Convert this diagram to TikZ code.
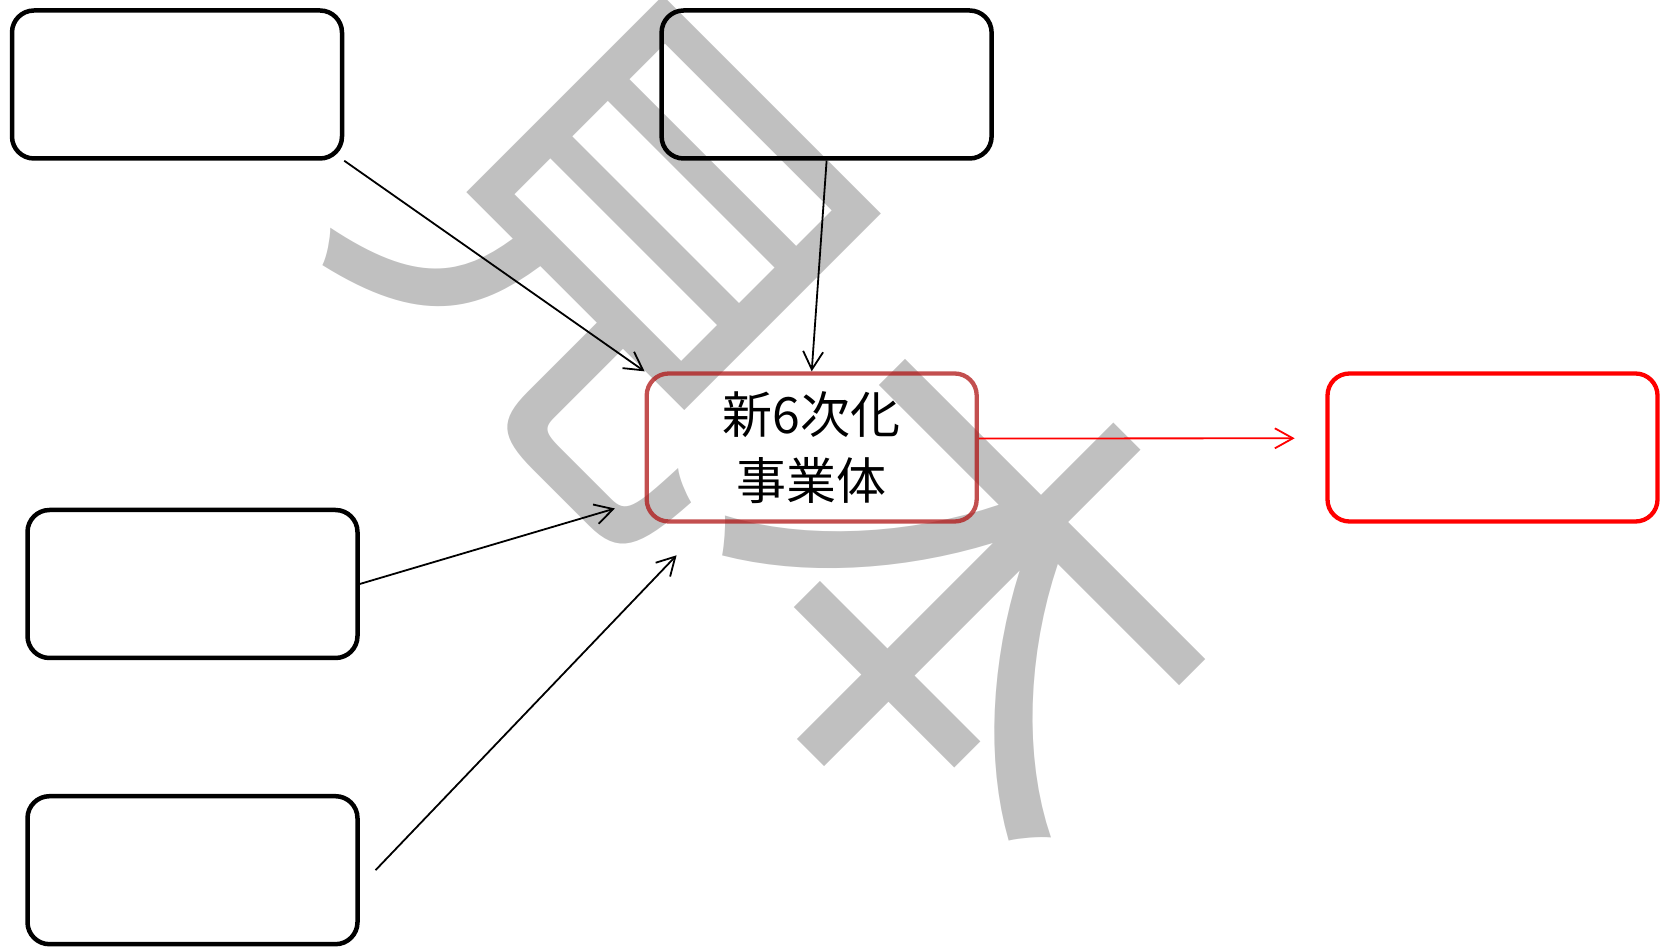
\documentclass[tikz,border=0pt]{standalone}
\usepackage{fontspec}
\newfontfamily\cjk{Noto Sans CJK JP}
\usetikzlibrary{arrows.meta}
\definecolor{wm}{RGB}{192,192,192}
\definecolor{boxred}{RGB}{255,0,0}
\definecolor{midred}{RGB}{175,20,20}
\tikzset{
  box/.style={draw=black, line width=4.5pt, rounded corners=22pt, minimum width=330pt, minimum height=148pt, inner sep=0pt},
  redbox/.style={box, draw=boxred, line width=4.3pt},
  midbox/.style={box, draw=midred, draw opacity=0.75, line width=4.3pt, align=center, font=\cjk\fontsize{50}{66}\selectfont},
  conn/.style={line width=1.8pt, -{Straight Barb[length=18pt,width=20pt,line width=1.8pt]}},
  redconn/.style={conn, draw=boxred},
  watermark/.style={text=wm, rotate=-45, inner sep=0pt, font=\cjk\fontsize{487}{487}\selectfont}
}
\begin{document}
\begin{tikzpicture}[x=1pt,y=1pt]
\useasboundingbox (0,0) rectangle (1668,950);
\node[watermark] (wmk) at (797,527) {見本};
\node[box] (A) at (177,865.5) {};
\node[box] (B) at (826.6,865.5) {};
\node[box] (C) at (192.5,366) {};
\node[box] (D) at (192.5,79.8) {};
\node[midbox] (E) at (811.7,502.5) {新6次化\\事業体};
\node[redbox] (R) at (1492.5,502.5) {};
\coordinate (c3) at (614.9,441.5);
\coordinate (d0) at (375.5,79.8);
\coordinate (c4) at (676.6,394.7);
\coordinate (c5) at (1294.7,511.7);
\draw[conn] (A.south east) -- (E.north west);
\draw[conn] (B.south) -- (E.north);
\draw[conn] (C.east) -- (c3);
\draw[conn] (d0) -- (c4);
\draw[redconn] ([yshift=9pt]E.east) -- (c5);
\end{tikzpicture}
\end{document}
